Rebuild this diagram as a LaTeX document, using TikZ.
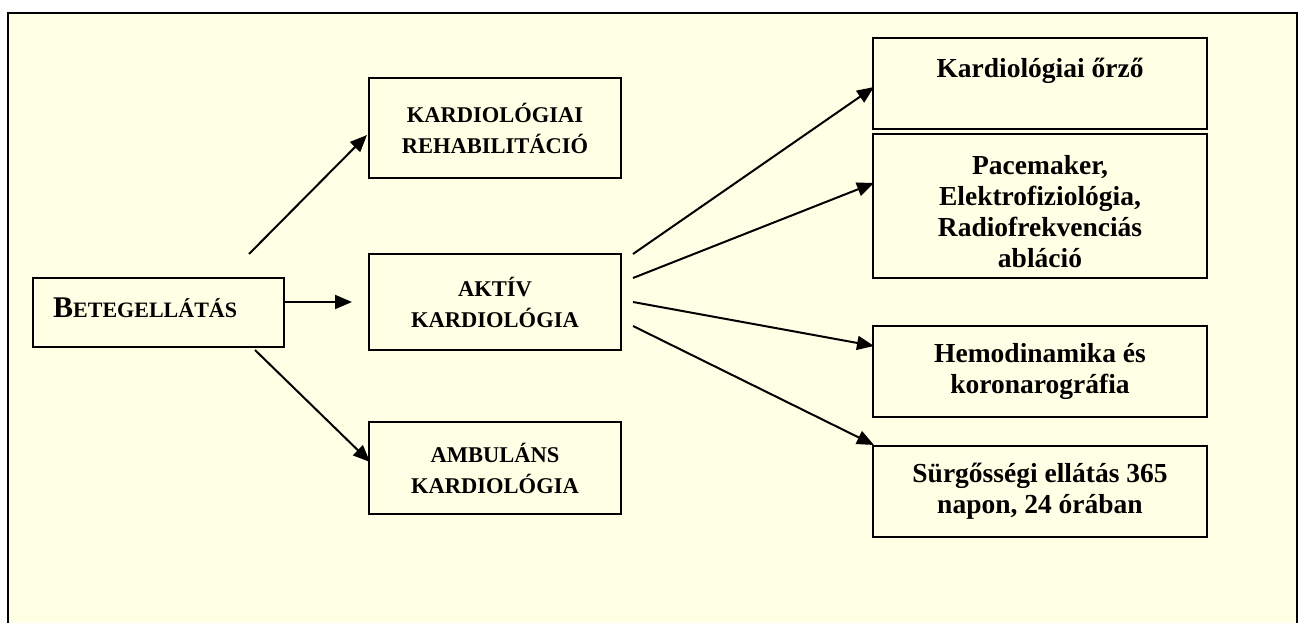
\documentclass[tikz,border=0pt]{standalone}
\usepackage{fontspec}
\setmainfont{Liberation Serif}
\usetikzlibrary{arrows.meta}
\definecolor{bgyellow}{RGB}{255,255,229}
\tikzset{
  box/.style={draw=black, line width=2.2pt, fill=bgyellow, inner sep=0pt, align=center, font=\bfseries},
  capsbox/.style={box, font=\fontsize{22.5}{31}\selectfont\bfseries, minimum width=252pt},
  rightbox/.style={box, font=\fontsize{27.5}{31}\selectfont\bfseries, minimum width=334pt},
  conn/.style={line width=2pt, -{Triangle[length=17pt,width=14pt]}},
}
\begin{document}
\begin{tikzpicture}[x=1pt,y=-1pt]
\useasboundingbox (0,0) rectangle (1299,623);
\clip (0,0) rectangle (1299,623);
\fill[white] (0,0) rectangle (1299,623);
\draw[line width=2.2pt, fill=bgyellow] (8,13) rectangle (1297,660);

\node[box, minimum width=251pt, minimum height=69pt] (bet) at (158.5,312.5) {};
\node[font=\bfseries, inner sep=0pt, anchor=base west] (bettext) at (53,317)
  {{\fontsize{30}{30}\selectfont B}{\fontsize{22}{22}\selectfont ETEGELLÁTÁS}};

\node[capsbox, minimum height=100pt] (rehab) at (495,128) {KARDIOLÓGIAI\\REHABILITÁCIÓ};
\node[capsbox, minimum height=96pt] (aktiv) at (495,302) {AKTÍV\\KARDIOLÓGIA};
\node[capsbox, minimum height=92pt] (amb) at (495,468) {AMBULÁNS\\KARDIOLÓGIA};

\node[rightbox, minimum height=91pt] (orzo) at (1040,83.5) {Kardiológiai őrző\\\mbox{}};
\node[rightbox, minimum height=144pt] (pace) at (1040,206) {\rule{0pt}{30pt}Pacemaker,\\Elektrofiziológia,\\Radiofrekvenciás\\abláció};
\node[rightbox, minimum height=91pt] (hemo) at (1040,371.5) {Hemodinamika és\\koronarográfia};
\node[rightbox, minimum height=91pt] (surg) at (1040,491.5) {Sürgősségi ellátás 365\\napon, 24 órában};

% connector end points (arrows leave gaps from the boxes)
\coordinate (s1) at (249,254);  \coordinate (t1) at (367,135);
\coordinate (s2) at (285,302);  \coordinate (t2) at (352,302);
\coordinate (s3) at (255,350);  \coordinate (t3) at (370,462);
\coordinate (s4) at (633,254);  \coordinate (t4) at (874,87);
\coordinate (s5) at (633,278);  \coordinate (t5) at (874,183);
\coordinate (s6) at (633,302);  \coordinate (t6) at (874,346);
\coordinate (s7) at (633,326);  \coordinate (t7) at (874,445);

\draw[conn] (s1) -- (t1);
\draw[conn] (s2) -- (t2);
\draw[conn] (s3) -- (t3);
\draw[conn] (s4) -- (t4);
\draw[conn] (s5) -- (t5);
\draw[conn] (s6) -- (t6);
\draw[conn] (s7) -- (t7);
\end{tikzpicture}
\end{document}
